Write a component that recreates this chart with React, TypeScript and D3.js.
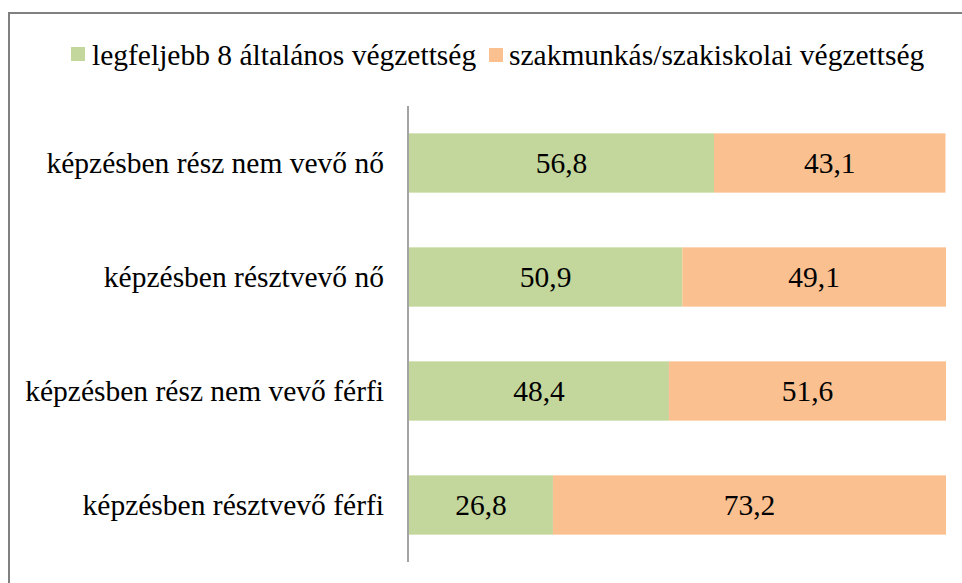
import React from "react";
import * as d3 from "d3";

// categories top to bottom
const categories = [
  "képzésben rész nem vevő nő",
  "képzésben résztvevő nő",
  "képzésben rész nem vevő férfi",
  "képzésben résztvevő férfi",
];
const seriesNames = ["legfeljebb 8 általános végzettség", "szakmunkás/szakiskolai végzettség"];
const primary = [56.8, 50.9, 48.4, 26.8];
const vocational = [43.1, 49.1, 51.6, 73.2];
const colors = ["#C3D69B", "#FAC090"];

const W = 962;
const H = 583;
const txt = { fontFamily: '"Liberation Serif", "Times New Roman", serif', fontSize: "29.5px" };

const App = () => {
  const x = d3.scaleLinear().domain([0, 100]).range([409, 946]);
  const y = d3
    .scaleBand<string>()
    .domain(categories)
    .range([106, 562])
    .paddingInner(0.48)
    .paddingOuter(0.24);

  const rows = categories.map((c, i) => ({ c, vals: [primary[i], vocational[i]] }));
  const fmt = (v: number) => v.toFixed(1).replace(".", ",");

  return (
    <svg width={W} height={H} style={{ position: "absolute", left: 0, top: 0 }}>
      <rect x={0} y={0} width={W} height={H} fill="#fff" />
      <rect x={9} y={13} width={W + 10} height={H + 10} fill="none" stroke="#808080" strokeWidth={2} />

      {/* legend */}
      <rect x={71} y={47} width={14} height={14} fill={colors[0]} />
      <text x={92} y={55} dominantBaseline="central" style={txt}>{seriesNames[0]}</text>
      <rect x={489} y={48} width={14} height={14} fill={colors[1]} />
      <text x={509} y={55} dominantBaseline="central" style={txt}>{seriesNames[1]}</text>

      {rows.map((r) => {
        let acc = 0;
        const y0 = y(r.c) as number;
        const bw = y.bandwidth();
        return (
          <g key={r.c}>
            {r.vals.map((v, j) => {
              const x0 = x(acc);
              const x1 = x(acc + v);
              acc += v;
              return (
                <g key={j}>
                  <rect x={x0} y={y0} width={x1 - x0} height={bw} fill={colors[j]} />
                  <text
                    x={(x0 + x1) / 2}
                    y={y0 + bw / 2}
                    textAnchor="middle"
                    dominantBaseline="central"
                    style={txt}
                  >
                    {fmt(v)}
                  </text>
                </g>
              );
            })}
            <text x={384} y={y0 + bw / 2} textAnchor="end" dominantBaseline="central" style={txt}>
              {r.c}
            </text>
          </g>
        );
      })}

      <line x1={408} x2={408} y1={106} y2={562} stroke="#868686" strokeWidth={1.5} />
    </svg>
  );
};

export default App;
